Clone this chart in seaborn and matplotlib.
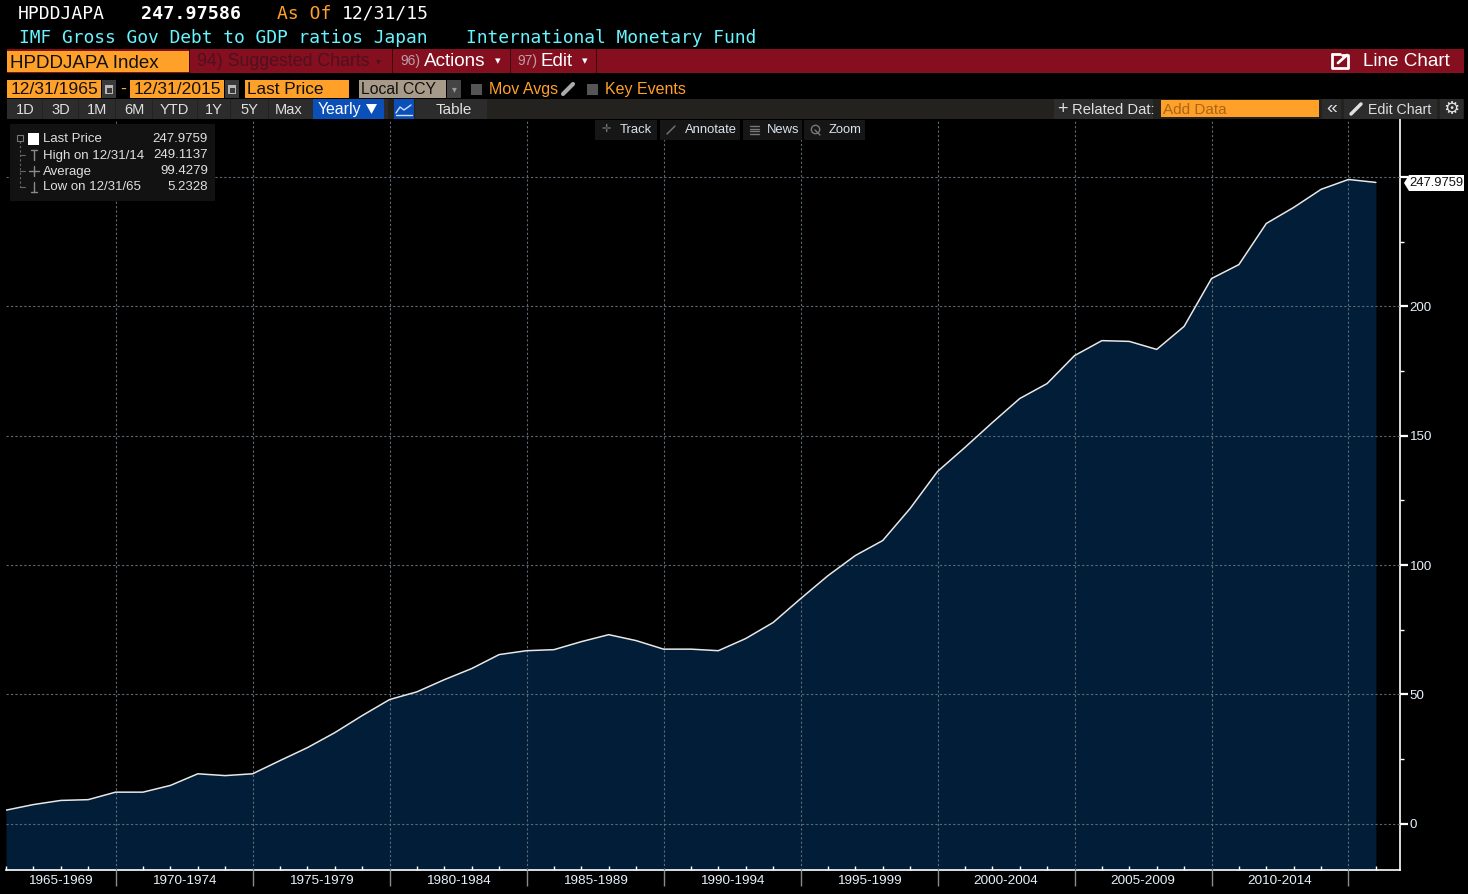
"""Japan gross government debt to GDP, terminal style area chart."""

import matplotlib
matplotlib.use('Agg')
import matplotlib.pyplot as plt
from matplotlib.patches import Polygon, Rectangle
import pandas as pd
import seaborn as sns

years = list(range(1965, 2016))
debt_to_gdp = [5.2328, 7.4, 9.0, 9.3, 12.2, 12.2, 14.8, 19.3, 18.6, 19.3,
               24.4, 29.4, 35.2, 41.8, 48.0, 51.0, 55.7, 60.0, 65.4, 66.9,
               67.3, 70.4, 73.1, 70.8, 67.5, 67.5, 66.9, 71.6, 77.8, 87.0,
               95.9, 103.7, 109.5, 121.9, 136.2, 145.5, 155.1, 164.4, 170.2, 181.0,
               186.8, 186.5, 183.4, 192.3, 210.8, 216.2, 232.1, 238.3, 245.3, 249.1137,
               247.9759]
period_labels = ['1965-1969', '1970-1974', '1975-1979', '1980-1984', '1985-1989',
                 '1990-1994', '1995-1999', '2000-2004', '2005-2009', '2010-2014']
period_ends = [1969, 1974, 1979, 1984, 1989, 1994, 1999, 2004, 2009, 2014]
major_y = [0, 50, 100, 150, 200, 250]
minor_y = [25, 75, 125, 175, 225]
major_y_labels = ['0', '50', '100', '150', '200']

legend_rows = [('Last Price', '247.9759'), ('High on 12/31/14', '249.1137'),
               ('Average', '99.4279'), ('Low on 12/31/65', '5.2328')]
range_buttons = ['1D', '3D', '1M', '6M', 'YTD', '1Y', '5Y', 'Max']
range_centers = [25, 61, 97, 134, 174, 214, 249, 289]
tool_buttons = ['Track', 'Annotate', 'News', 'Zoom']

W, H = 1468, 894
BLACK = '#000000'
NAVY = '#021d38'
RED = '#850f1f'
ORANGE = '#ffa028'
TICK_TEXT = '#e6f0fa'
BAR = '#23221f'
BTN = '#2c2c2c'

sns.set_theme(style='dark', rc={'axes.facecolor': BLACK, 'figure.facecolor': BLACK})
plt.rcParams['font.family'] = ['Liberation Sans', 'DejaVu Sans']
MONO = ['DejaVu Sans Mono']


def px_rect(x0, y0, x1, y1):
    return [x0 / W, 1 - y1 / H, (x1 - x0) / W, (y1 - y0) / H]


df = pd.DataFrame({'year': years, 'debt': debt_to_gdp})

fig = plt.figure(figsize=(W / 100, H / 100), dpi=100, facecolor=BLACK)

# data axes: left edge is 1965, right spine sits a bit past 2015
ax = fig.add_axes(px_rect(6, 119, 1400, 870))
ax.set_facecolor(BLACK)
ax.fill_between(df['year'], df['debt'], -30, color=NAVY, lw=0, zorder=1)
sns.lineplot(data=df, x='year', y='debt', ax=ax, color='#e8e8e8', linewidth=1.1,
             errorbar=None, zorder=3)
ax.set_xlim(1965, 2015.88)
ax.set_ylim(-17.9, 272.5)
ax.set_xlabel('')
ax.set_ylabel('')

ax.yaxis.tick_right()
ax.set_yticks(major_y)
ax.set_yticklabels(major_y_labels + [''])
ax.set_yticks(minor_y, minor=True)
ax.set_xticks(period_ends)
ax.set_xticklabels([])
ax.set_xticks(years, minor=True)
ax.tick_params(axis='y', which='major', length=6, width=1.6, color='white', pad=1,
               labelcolor=TICK_TEXT, labelsize=9.6, right=True, direction='out')
ax.tick_params(axis='y', which='minor', length=3, width=1, color='white', right=True)
ax.tick_params(axis='x', which='major', length=11.5, width=1, color='#8a8a8a', bottom=True)
ax.tick_params(axis='x', which='minor', length=3, width=1, color='white', bottom=True,
               direction='in')
ax.grid(True, which='major', color='#5d6a75', linestyle=(0, (2, 2)), linewidth=0.8, zorder=2)
ax.set_axisbelow(False)
for side in ['top', 'left']:
    ax.spines[side].set_visible(False)
for side in ['right', 'bottom']:
    ax.spines[side].set_color('white')
    ax.spines[side].set_linewidth(1.2)

starts = [years[0]] + period_ends[:-1]
for start, end, label_text in zip(starts, period_ends, period_labels):
    ax.annotate(label_text, xy=((start + end) / 2, 0), xycoords=('data', 'axes fraction'),
                xytext=(0, -8), textcoords='offset points', ha='center', va='center',
                color=TICK_TEXT, fontsize=9.7, annotation_clip=False)

# everything around the chart is placed in screen pixels on an overlay
ui = fig.add_axes([0, 0, 1, 1], zorder=5)
ui.set_xlim(0, W)
ui.set_ylim(H, 0)
ui.axis('off')
ui.patch.set_alpha(0)


def box(x0, y0, x1, y1, color, **kw):
    ui.add_patch(Rectangle((x0, y0), x1 - x0, y1 - y0, facecolor=color, lw=0, **kw))


def label(x, y, s, color='white', size=11, ha='left', **kw):
    ui.text(x, y + 1, s, color=color, fontsize=size, ha=ha, va='center', **kw)


# header lines
label(18, 13, 'HPDDJAPA', size=13, family=MONO)
label(141, 13, '247.97586', size=13.2, family=MONO, fontweight='bold')
label(277, 13, 'As Of', color=ORANGE, size=13, family=MONO)
label(342, 13, '12/31/15', size=13, family=MONO)
label(19, 37, 'IMF Gross Gov Debt to GDP ratios Japan', color='#66f4ff', size=12.9, family=MONO)
label(466, 37, 'International Monetary Fund', color='#66f4ff', size=12.9, family=MONO)

# red menu strip
box(7, 49, 1464, 73, RED)
box(7, 51, 189, 72, ORANGE)
label(10, 62, 'HPDDJAPA Index', color='#111111', size=13.5)
label(197, 60.5, '94) Suggested Charts', color='#4f1020', size=12.8)
label(376, 60, '▾', color='#4f1020', size=7, family=['DejaVu Sans'])
label(400, 60.5, '96)', color='#b9a0a6', size=10)
label(424, 60.5, 'Actions', size=13.6)
label(495, 60, '▾', color='white', size=8, family=['DejaVu Sans'])
label(517, 60.5, '97)', color='#b9a0a6', size=10)
label(541, 60.5, 'Edit', size=13.6)
label(582, 60, '▾', color='white', size=8, family=['DejaVu Sans'])
for x in [189, 392, 510, 596]:
    box(x, 49, x + 1, 73, '#3b0a10')
ui.plot([1332, 1332, 1348, 1348], [54, 68, 68, 61], color='white', lw=2)
ui.plot([1332, 1340], [54, 54], color='white', lw=2)
ui.plot([1338, 1347], [63, 55], color='white', lw=2)
ui.plot([1342, 1348, 1348], [55, 55, 60], color='white', lw=2)
label(1363, 60.5, 'Line Chart', size=13.6)

# date and field row
box(7, 80, 101, 98, ORANGE)
label(11, 88.5, '12/31/1965', color='#111111', size=12.6)
box(102, 80, 116, 98, '#3a3a3a')
label(120, 88.5, '-', color=ORANGE, size=13)
box(130, 80, 224, 98, ORANGE)
label(134, 88.5, '12/31/2015', color='#111111', size=12.6)
box(225, 80, 239, 98, '#3a3a3a')
for x in [105, 228]:
    box(x, 85, x + 8, 94, '#b8b8b8')
    box(x + 1.5, 87.5, x + 6.5, 92.5, '#3a3a3a')
box(245, 80, 349, 98, ORANGE)
label(247, 88.5, 'Last Price', color='#111111', size=12.4)
box(359, 80, 446, 98, '#a89a88')
label(361, 88.5, 'Local CCY', color='#111111', size=11.3)
box(447, 80, 461, 98, '#444444')
label(454, 88, '▾', color='#999999', size=7, ha='center', family=['DejaVu Sans'])
box(471, 84, 482, 95, '#555555')
label(489, 88.5, 'Mov Avgs', color=ORANGE, size=11.5)
ui.plot([563, 573], [94, 84], color='#aaaaaa', lw=3)
box(587, 84, 598, 95, '#555555')
label(605, 88.5, 'Key Events', color=ORANGE, size=11.5)

# range buttons
box(7, 99, 1464, 119, BAR)
box(7, 99, 487, 119, BTN)
for name, cx in zip(range_buttons, range_centers):
    label(cx, 108.5, name, color='#e0e0e0', size=10.5, ha='center')
for x in [42, 78, 115, 152, 197, 230, 268]:
    box(x, 99, x + 1, 119, BAR)
box(313, 99, 384, 119, '#0b4fb8')
label(318, 108.5, 'Yearly', size=11.4)
ui.add_patch(Polygon([[366, 104], [377, 104], [371.5, 114]], facecolor='white', lw=0))
box(388, 99, 415, 119, BAR)
box(394, 99, 414, 119, '#0b4fb8')
ui.plot([396, 400, 404, 411], [113, 107, 110, 105], color='#cfe0ff', lw=1)
ui.plot([396, 412], [115, 115], color='#cfe0ff', lw=1)
box(420, 99, 487, 119, BTN)
label(453.5, 108.5, 'Table', color='#e0e0e0', size=11, ha='center')

box(1054, 99, 1153, 119, BTN)
label(1057, 108, '+', size=13, color='#e0e0e0')
label(1072, 108.5, 'Related Dat:', color='#e0e0e0', size=10.6)
box(1153, 99, 1161, 119, BAR)
box(1161, 100, 1319, 117, ORANGE)
label(1163, 108.5, 'Add Data', color='#a8661a', size=11)
box(1322, 99, 1341, 119, BTN)
label(1332, 107, '«', color='#e0e0e0', size=14, ha='center')
box(1344, 99, 1437, 119, BTN)
ui.plot([1351, 1361], [114, 104], color='#e0e0e0', lw=2.5)
label(1368, 108.5, 'Edit Chart', color='#e0e0e0', size=10.2)
box(1440, 99, 1463, 119, BTN)
label(1451, 107.5, '⚙', color='#e0e0e0', size=13, ha='center', family=['DejaVu Sans'])

# tool strip above the plot
for (x0, x1), name, tx in zip([(595, 657), (660, 740), (743, 802), (804, 865)],
                              tool_buttons, [620, 685, 767, 829]):
    box(x0, 120, x1, 140, '#161616')
    label(tx, 129, name, color='#d8e4f0', size=9.4)
label(606, 128.5, '✛', color='#777777', size=8, ha='center', family=['DejaVu Sans'])
ui.plot([667, 675], [134, 126], color='#777777', lw=1)
for y in [126, 128.5, 131, 133.5]:
    ui.plot([750, 759], [y, y], color='#777777', lw=1)
ui.plot([815, 820], [130, 135], color='#777777', lw=1)
ui.plot([814.5], [128.5], marker='o', ms=6, mfc='none', mec='#777777', mew=1)

# stats legend box
box(10, 124, 215, 201, '#121212')
box(28, 133, 39, 145, 'white')
ui.add_patch(Rectangle((17, 135), 6, 6, facecolor='none', edgecolor='#777777', lw=0.8))
ui.plot([20, 20], [141, 187], color='#666666', lw=0.8, linestyle=(0, (2, 2)))
for y in [155, 171, 187]:
    ui.plot([20, 25], [y, y], color='#666666', lw=0.8)
    ui.plot([34, 34], [y - 5, y + 5], color='#8a8a8a', lw=1)
ui.plot([29, 39], [171, 171], color='#8a8a8a', lw=1)
ui.plot([31, 37], [150, 150], color='#8a8a8a', lw=1)
ui.plot([31, 37], [192, 192], color='#8a8a8a', lw=1)
for (name, val), y in zip(legend_rows, [138.5, 154.5, 170.5, 186.5]):
    label(43, y, name, color='#e0e0e0', size=9.5)
    label(208, y, val, color='#e0e0e0', size=9.5, ha='right')

# last price tag on the axis
ui.add_patch(Polygon([[1404, 183], [1409, 175], [1464, 175], [1464, 191], [1409, 191]],
                     facecolor='white', lw=0))
label(1436, 182.5, legend_rows[0][1], color='#111111', size=9.4, ha='center')

fig.savefig('out.png', dpi=100, facecolor=BLACK)
